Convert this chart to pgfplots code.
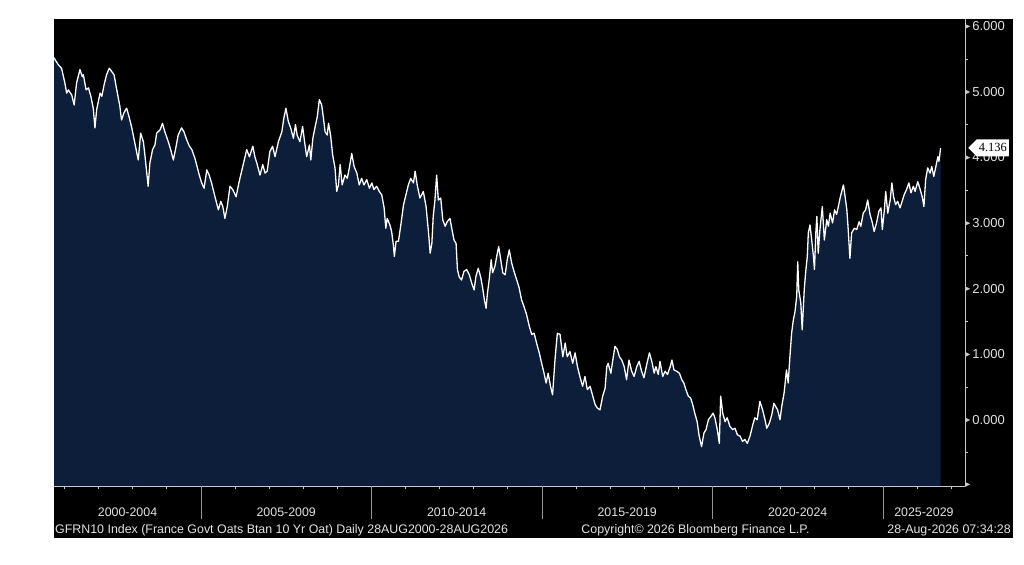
\documentclass[border=0pt]{standalone}
\usepackage{fontspec}
\setmainfont{Liberation Sans}
\newfontfamily\serifnum{Liberation Serif}
\usepackage{pgfplots}
\pgfplotsset{compat=1.18}
\usepackage{pgfplotstable}
\usetikzlibrary{shapes.symbols}
\definecolor{navy}{RGB}{12,30,58}
\definecolor{axgray}{RGB}{200,200,200}
\definecolor{sepgray}{RGB}{150,150,150}
\definecolor{txtgray}{RGB}{225,225,225}
\newcommand\tri{\tikz[baseline=-0.62ex]\fill[axgray] (0,-2.4bp)--(5bp,0)--(0,2.4bp)--cycle;}
\newcommand\lblfont{\fontsize{12.4bp}{14bp}\selectfont}
\newcommand\ylblfont{\fontsize{13bp}{14bp}\selectfont}

\pgfplotstableread{
x y
2000.69 5.52
2000.72 5.49
2000.82 5.41
2000.91 5.36
2001.01 5.13
2001.06 4.98
2001.11 5.03
2001.21 4.95
2001.28 4.80
2001.35 5.13
2001.45 5.34
2001.52 5.23
2001.55 5.26
2001.63 5.03
2001.70 5.06
2001.77 4.93
2001.84 4.75
2001.89 4.45
2001.94 4.73
2002.04 4.98
2002.09 4.93
2002.16 5.11
2002.23 5.26
2002.31 5.36
2002.38 5.31
2002.45 5.26
2002.53 5.03
2002.62 4.78
2002.67 4.57
2002.74 4.68
2002.82 4.75
2002.90 4.60
2002.97 4.45
2003.06 4.22
2003.16 3.96
2003.23 4.37
2003.31 4.24
2003.36 4.01
2003.41 3.76
2003.45 3.56
2003.50 3.91
2003.58 4.12
2003.65 4.19
2003.70 4.37
2003.80 4.42
2003.87 4.52
2003.94 4.39
2004.04 4.24
2004.11 4.12
2004.19 3.96
2004.27 4.17
2004.33 4.34
2004.43 4.45
2004.50 4.39
2004.58 4.27
2004.66 4.17
2004.73 4.12
2004.82 3.99
2004.87 3.89
2004.95 3.73
2005.02 3.61
2005.09 3.53
2005.17 3.81
2005.24 3.73
2005.31 3.61
2005.41 3.40
2005.51 3.20
2005.58 3.33
2005.64 3.25
2005.70 3.07
2005.77 3.25
2005.85 3.56
2005.93 3.51
2006.03 3.40
2006.11 3.61
2006.26 3.94
2006.34 4.12
2006.42 4.01
2006.52 4.17
2006.58 4.01
2006.65 3.89
2006.73 3.73
2006.81 3.89
2006.88 3.76
2006.94 3.79
2007.02 4.09
2007.10 4.17
2007.17 4.01
2007.27 4.24
2007.37 4.39
2007.43 4.60
2007.49 4.75
2007.56 4.55
2007.63 4.45
2007.71 4.29
2007.77 4.50
2007.82 4.34
2007.90 4.24
2007.98 4.47
2008.05 4.19
2008.10 4.01
2008.18 4.19
2008.22 3.96
2008.28 4.29
2008.34 4.45
2008.41 4.62
2008.47 4.88
2008.54 4.80
2008.59 4.60
2008.64 4.39
2008.70 4.34
2008.74 4.52
2008.80 4.34
2008.86 4.04
2008.93 3.84
2008.98 3.48
2009.03 3.58
2009.08 3.89
2009.14 3.58
2009.22 3.73
2009.29 3.68
2009.35 3.84
2009.42 4.06
2009.49 3.86
2009.57 3.76
2009.64 3.58
2009.71 3.68
2009.78 3.58
2009.86 3.66
2009.94 3.53
2010.01 3.61
2010.07 3.51
2010.15 3.56
2010.23 3.48
2010.30 3.43
2010.37 3.23
2010.42 2.92
2010.46 3.07
2010.54 2.97
2010.59 2.87
2010.64 2.67
2010.67 2.49
2010.72 2.72
2010.79 2.72
2010.86 2.97
2010.94 3.28
2011.01 3.43
2011.08 3.58
2011.15 3.68
2011.23 3.61
2011.28 3.79
2011.34 3.58
2011.42 3.38
2011.52 3.48
2011.60 3.25
2011.67 2.87
2011.72 2.54
2011.77 2.69
2011.81 3.10
2011.86 3.35
2011.91 3.73
2011.96 3.35
2012.03 3.38
2012.09 3.05
2012.16 2.95
2012.22 3.02
2012.30 3.07
2012.36 2.90
2012.42 2.74
2012.48 2.69
2012.52 2.29
2012.57 2.18
2012.64 2.13
2012.71 2.26
2012.79 2.29
2012.87 2.21
2012.94 2.08
2013.01 1.98
2013.06 2.18
2013.13 2.31
2013.20 2.18
2013.26 2.01
2013.31 1.83
2013.36 1.70
2013.40 1.93
2013.45 2.13
2013.51 2.44
2013.55 2.24
2013.62 2.34
2013.69 2.54
2013.73 2.64
2013.79 2.44
2013.85 2.24
2013.92 2.21
2013.98 2.44
2014.04 2.59
2014.11 2.39
2014.18 2.26
2014.26 2.13
2014.33 2.01
2014.40 1.83
2014.47 1.73
2014.55 1.60
2014.63 1.42
2014.70 1.30
2014.77 1.32
2014.84 1.17
2014.92 1.02
2014.99 0.86
2015.06 0.71
2015.12 0.56
2015.18 0.71
2015.25 0.51
2015.31 0.38
2015.38 0.91
2015.45 1.32
2015.53 1.30
2015.61 0.96
2015.68 1.17
2015.74 0.96
2015.82 1.04
2015.90 0.86
2015.97 1.02
2016.04 0.81
2016.11 0.66
2016.19 0.51
2016.26 0.66
2016.33 0.46
2016.41 0.51
2016.49 0.36
2016.56 0.23
2016.62 0.18
2016.70 0.15
2016.78 0.36
2016.85 0.48
2016.90 0.81
2016.94 0.86
2017.02 0.71
2017.07 0.89
2017.14 1.12
2017.21 1.07
2017.27 0.96
2017.34 0.91
2017.41 0.81
2017.48 0.61
2017.55 0.91
2017.63 0.74
2017.70 0.66
2017.78 0.81
2017.85 0.89
2017.92 0.74
2017.99 0.64
2018.07 0.84
2018.15 1.02
2018.22 0.89
2018.29 0.71
2018.34 0.81
2018.41 0.69
2018.46 0.89
2018.54 0.66
2018.61 0.74
2018.68 0.69
2018.76 0.81
2018.81 0.91
2018.87 0.76
2018.95 0.74
2019.03 0.71
2019.10 0.61
2019.16 0.56
2019.22 0.46
2019.29 0.36
2019.36 0.33
2019.42 0.23
2019.48 0.10
2019.55 -0.03
2019.61 -0.25
2019.68 -0.41
2019.75 -0.20
2019.81 -0.15
2019.88 0.00
2019.95 0.05
2020.02 0.10
2020.07 0.03
2020.14 -0.15
2020.20 -0.36
2020.24 0.36
2020.30 0.10
2020.37 -0.03
2020.43 0.03
2020.51 -0.10
2020.59 -0.15
2020.66 -0.13
2020.73 -0.23
2020.81 -0.25
2020.88 -0.33
2020.95 -0.30
2021.02 -0.36
2021.10 -0.25
2021.18 -0.08
2021.24 0.03
2021.31 0.00
2021.39 0.28
2021.47 0.15
2021.54 0.00
2021.59 -0.13
2021.67 -0.05
2021.74 0.08
2021.80 0.25
2021.91 0.15
2021.98 0.00
2022.03 0.20
2022.10 0.41
2022.17 0.76
2022.22 0.56
2022.27 0.96
2022.32 1.32
2022.37 1.52
2022.42 1.65
2022.47 1.88
2022.50 2.41
2022.53 1.98
2022.59 1.78
2022.63 1.37
2022.69 1.98
2022.73 2.24
2022.78 2.49
2022.81 2.85
2022.86 2.97
2022.91 2.74
2022.96 2.49
2022.99 2.29
2023.03 2.85
2023.06 3.10
2023.10 2.54
2023.15 2.90
2023.22 3.25
2023.28 2.74
2023.35 3.05
2023.40 2.95
2023.45 3.15
2023.52 3.00
2023.58 3.20
2023.64 3.13
2023.69 3.25
2023.75 3.40
2023.79 3.48
2023.84 3.58
2023.89 3.40
2023.94 3.20
2023.98 2.90
2024.03 2.46
2024.08 2.85
2024.16 2.92
2024.23 2.90
2024.30 3.02
2024.35 2.95
2024.42 3.15
2024.49 3.20
2024.55 3.35
2024.62 3.13
2024.69 3.00
2024.74 2.87
2024.81 3.00
2024.88 3.18
2024.94 3.23
2024.98 2.90
2025.04 3.20
2025.08 3.48
2025.14 3.15
2025.21 3.35
2025.26 3.61
2025.31 3.40
2025.37 3.28
2025.43 3.33
2025.50 3.23
2025.56 3.33
2025.62 3.43
2025.69 3.51
2025.76 3.61
2025.82 3.46
2025.89 3.56
2025.94 3.48
2026.02 3.63
2026.08 3.53
2026.15 3.40
2026.20 3.25
2026.25 3.66
2026.31 3.84
2026.38 3.76
2026.43 3.86
2026.49 3.71
2026.55 3.86
2026.61 4.01
2026.64 3.94
2026.69 4.14
}\gfrn

\begin{document}
\begin{tikzpicture}[font=\lblfont]
\fill[white] (0bp,0bp) rectangle (1024bp,565bp);
\fill[black] (54bp,27bp) rectangle (1013bp,546bp);
\begin{axis}[
  at={(54bp,79bp)}, anchor=south west,
  width=911bp, height=467bp, scale only axis,
  xmin=2000.689, xmax=2027.405, ymin=-1.01, ymax=6.11,
  axis x line=bottom, axis y line=right,
  axis line style={-, draw=axgray, line width=0.8bp},
  tick align=outside,
  major tick length=0bp, minor tick length=3bp,
  tick style={draw=axgray, line width=0.8bp},
  tick label style={font=\lblfont, text=txtgray},
  xtick={2002.845,2007.5,2012.5,2017.5,2022.5,2026.2},
  xticklabels={2000-2004,2005-2009,2010-2014,2015-2019,2020-2024,2025-2029},
  xticklabel style={anchor=center, yshift=-26bp, inner sep=0pt},
  minor xtick={2001,2002,...,2027},
  extra x ticks={2005,2010,2015,2020,2025},
  extra x tick labels={},
  extra x tick style={major tick length=33bp, tick style={draw=sepgray, line width=0.8bp}},
  ytick={-1,0,1,2,3,4,5,6},
  yticklabels={\tri,\tri\,0.000,\tri\,1.000,\tri\,2.000,\tri\,3.000,\tri\,4.000,\tri\,5.000,\tri\,6.000},
  yticklabel style={anchor=west, inner sep=0pt, font=\ylblfont},
  minor ytick={-0.5,0.5,1.5,2.5,3.5,4.5,5.5},
]
\addplot[draw=none, fill=navy] table {\gfrn} |- (axis cs:2000.689,-1.01) -- cycle;
\addplot[white, line width=1.3bp, line join=round] table {\gfrn};
\coordinate (last) at (axis cs:2027.405,4.146);
\end{axis}
\node[signal, signal to=west, fill=white, text=black, anchor=west,
      inner xsep=2bp, inner ysep=1bp, minimum height=17bp,
      font=\serifnum\fontsize{12.5bp}{13bp}\selectfont, xshift=3bp] at (last) {4.136};
\node[anchor=west, inner sep=0pt, text=txtgray] at (55bp,35bp) {GFRN10 Index (France Govt Oats Btan 10 Yr Oat) Daily 28AUG2000-28AUG2026};
\node[inner sep=0pt, text=txtgray] at (695.5bp,35bp) {Copyright© 2026 Bloomberg Finance L.P.};
\node[anchor=east, inner sep=0pt, text=txtgray] at (1011bp,35bp) {28-Aug-2026 07:34:28};
\end{tikzpicture}
\end{document}
